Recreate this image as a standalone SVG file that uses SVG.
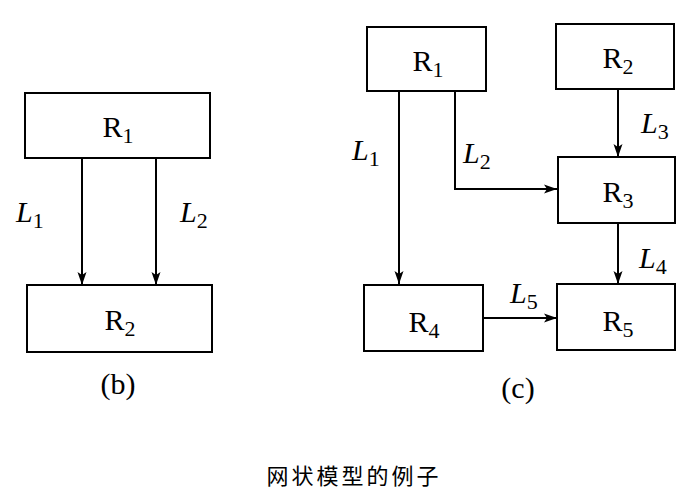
<svg xmlns="http://www.w3.org/2000/svg" width="698" height="495" viewBox="0 0 698 495">
<defs>
<marker id="arr" markerWidth="14" markerHeight="10" refX="13" refY="5" orient="auto" markerUnits="userSpaceOnUse">
<path d="M0,0.5 L13,5 L0,9.5 L3,5 Z" fill="#000"/>
</marker>
</defs>
<style>
.box{fill:#fff;stroke:#000;stroke-width:2}
.lbl{font-family:"Liberation Serif",serif;font-size:30px;fill:#000}
.it{font-style:italic}
.sub{font-size:22px;font-style:normal}
.con{fill:none;stroke:#000;stroke-width:2}
.cap{font-family:"Noto Sans CJK SC",sans-serif;font-size:22px;fill:#000;letter-spacing:3px}
</style>
<rect width="698" height="495" fill="#fff"/>
<g id="connectors">
<line class="con" x1="82" y1="158" x2="82" y2="285" marker-end="url(#arr)"/>
<line class="con" x1="156" y1="158" x2="156" y2="285" marker-end="url(#arr)"/>
<line class="con" x1="399" y1="91" x2="399" y2="284" marker-end="url(#arr)"/>
<polyline class="con" points="455,91 455,189 557,189" marker-end="url(#arr)"/>
<line class="con" x1="618" y1="89" x2="618" y2="157" marker-end="url(#arr)"/>
<line class="con" x1="618" y1="223" x2="618" y2="284" marker-end="url(#arr)"/>
<line class="con" x1="483" y1="318" x2="557" y2="318" marker-end="url(#arr)"/>
<text class="lbl it" x="16" y="222">L<tspan class="sub" dy="6">1</tspan></text>
<text class="lbl it" x="180" y="222">L<tspan class="sub" dy="6">2</tspan></text>
<text class="lbl it" x="352" y="160">L<tspan class="sub" dy="6">1</tspan></text>
<text class="lbl it" x="463" y="163">L<tspan class="sub" dy="6">2</tspan></text>
<text class="lbl it" x="641" y="133">L<tspan class="sub" dy="6">3</tspan></text>
<text class="lbl it" x="639" y="268">L<tspan class="sub" dy="6">4</tspan></text>
<text class="lbl it" x="510" y="303">L<tspan class="sub" dy="6">5</tspan></text>
</g>
<g id="b-R1"><rect class="box" x="25" y="93" width="185" height="65"/><text class="lbl" x="118" y="137" text-anchor="middle">R<tspan class="sub" dy="6">1</tspan></text></g>
<g id="b-R2"><rect class="box" x="27" y="285" width="185" height="67"/><text class="lbl" x="120" y="330" text-anchor="middle">R<tspan class="sub" dy="6">2</tspan></text></g>
<text class="lbl" x="118" y="394" text-anchor="middle">(b)</text>
<g id="c-R1"><rect class="box" x="367" y="27" width="119" height="64"/><text class="lbl" x="428" y="71" text-anchor="middle">R<tspan class="sub" dy="6">1</tspan></text></g>
<g id="c-R2"><rect class="box" x="556" y="24" width="118" height="65"/><text class="lbl" x="618" y="68" text-anchor="middle">R<tspan class="sub" dy="6">2</tspan></text></g>
<g id="c-R3"><rect class="box" x="558" y="157" width="117" height="66"/><text class="lbl" x="618" y="202" text-anchor="middle">R<tspan class="sub" dy="6">3</tspan></text></g>
<g id="c-R4"><rect class="box" x="364" y="285" width="119" height="66"/><text class="lbl" x="424" y="332" text-anchor="middle">R<tspan class="sub" dy="6">4</tspan></text></g>
<g id="c-R5"><rect class="box" x="557" y="284" width="118" height="66"/><text class="lbl" x="618" y="331" text-anchor="middle">R<tspan class="sub" dy="6">5</tspan></text></g>
<text class="lbl" x="518" y="398" text-anchor="middle">(c)</text>
<text class="cap" x="354" y="484" text-anchor="middle">网状模型的例子</text>
</svg>
